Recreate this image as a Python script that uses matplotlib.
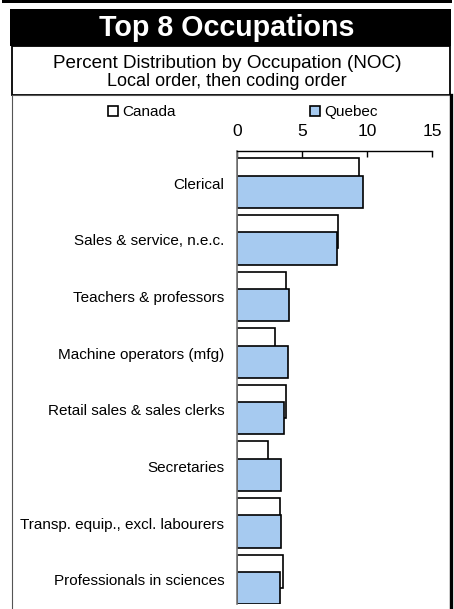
import numpy as np
import matplotlib
matplotlib.use("Agg")
import matplotlib.pyplot as plt
from matplotlib.patches import Rectangle, Patch

plt.rcParams['font.family'] = ['Liberation Sans', 'DejaVu Sans']

# data
occupations = ["Clerical", "Sales & service, n.e.c.", "Teachers & professors",
               "Machine operators (mfg)", "Retail sales & sales clerks",
               "Secretaries", "Transp. equip., excl. labourers",
               "Professionals in sciences"]
canada = [9.4, 7.8, 3.8, 2.9, 3.8, 2.4, 3.3, 3.5]
quebec = [9.7, 7.7, 4.0, 3.9, 3.6, 3.4, 3.35, 3.3]
x_ticks = [0, 5, 10, 15]

W, H = 454, 609
fig = plt.figure(figsize=(W / 100, H / 100), dpi=100)


def fx(px):
    return px / W


def fy(py):
    return 1 - py / H


# header boxes (pixel coords from top-left)
fig.patches.append(Rectangle((fx(2), fy(2.5)), fx(450), 2.5 / H, transform=fig.transFigure,
                             facecolor='black', edgecolor='none', zorder=-5))
fig.patches.append(Rectangle((fx(10), fy(46)), fx(441), 37 / H, transform=fig.transFigure,
                             facecolor='black', edgecolor='none', zorder=-5))
fig.patches.append(Rectangle((fx(12), fy(95)), fx(438), 49 / H, transform=fig.transFigure,
                             facecolor='white', edgecolor='black', linewidth=1.3, zorder=-5))
fig.patches.append(Rectangle((fx(11.5), fy(612)), fx(438.5), 517 / H, transform=fig.transFigure,
                             facecolor='white', edgecolor='#555555', linewidth=0.8, zorder=-5))
fig.lines.append(plt.Line2D([fx(450.5), fx(450.5)], [fy(95), 0], transform=fig.transFigure,
                            color='black', linewidth=2.4, zorder=-4))

fig.text(0.5, fy(28), "Top 8 Occupations", color='white', fontsize=20.6,
         fontweight='bold', ha='center', va='center')
fig.text(0.5, fy(64), "Percent Distribution by Occupation (NOC)", fontsize=13.6,
         ha='center', va='center')
fig.text(0.5, fy(82), "Local order, then coding order", fontsize=13,
         ha='center', va='center')

ax = fig.add_axes([fx(237), fy(604), fx(195), (604 - 151) / H])
ax.patch.set_alpha(0)

idx = np.arange(len(occupations))
ax.barh(idx + 0.42, canada, height=0.58, color='white', edgecolor='black',
        linewidth=1.2, label='Canada')
ax.barh(idx + 0.72, quebec, height=0.57, color='#A6CAF0', edgecolor='black',
        linewidth=1.2, label='Quebec')

ax.set_xlim(0, 15)
ax.set_ylim(len(occupations), 0)
ax.xaxis.tick_top()
ax.set_xticks(x_ticks)
ax.tick_params(axis='x', direction='in', length=4, width=1, pad=8.5, labelsize=12.5)
ax.set_yticks(idx + 0.57)
ax.set_yticklabels(occupations)
ax.tick_params(axis='y', length=0, pad=9, labelsize=11)

for s in ['right', 'bottom']:
    ax.spines[s].set_visible(False)
ax.spines['top'].set_linewidth(1)
ax.spines['left'].set_color('#777777')
ax.spines['left'].set_linewidth(1.2)

handles = [Patch(facecolor='white', edgecolor='black', linewidth=1.2),
           Patch(facecolor='#A6CAF0', edgecolor='black', linewidth=1.2)]
fig.legend(handles, ['Canada', 'Quebec'], ncol=2, loc='center left',
           bbox_to_anchor=(fx(94), fy(112)), frameon=False, fontsize=11,
           handlelength=0.65, handleheight=0.65, handletextpad=0.3,
           columnspacing=8.8)

fig.savefig("out.png", dpi=100)
